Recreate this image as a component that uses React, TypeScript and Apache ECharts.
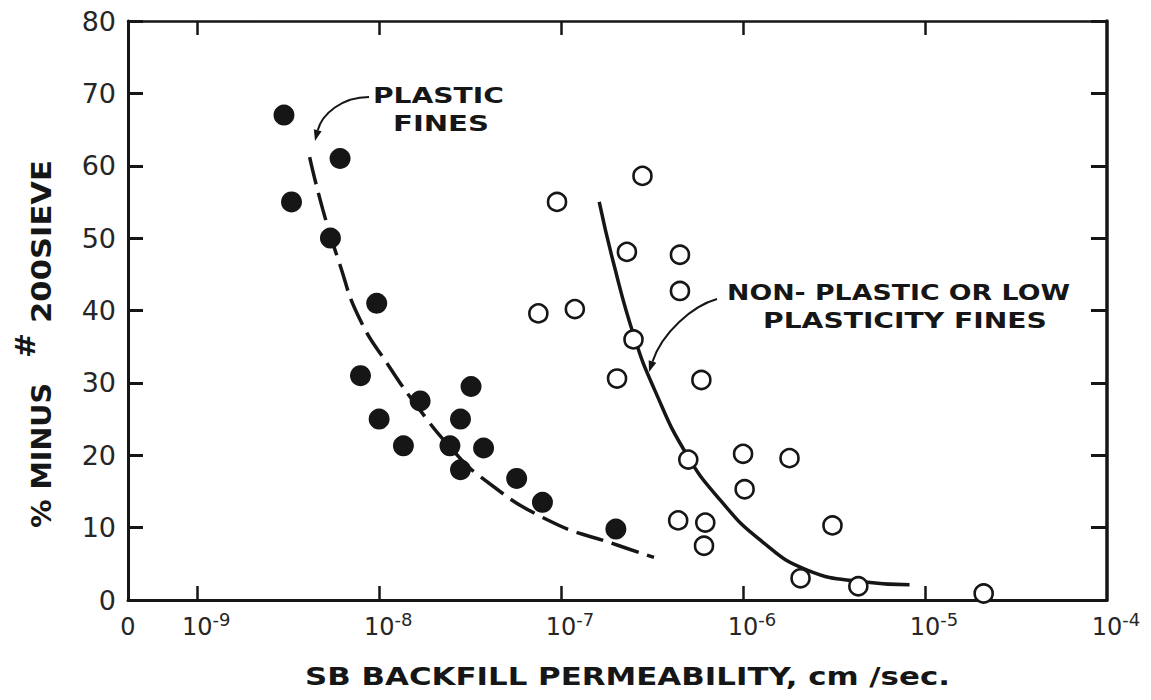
import React, { useEffect, useRef } from "react";
import * as echarts from "echarts";

// ---------- data (permeability in cm/sec, fines in %) ----------
const xTickExponents = [-9, -8, -7, -6, -5, -4];
const xMinExponent = -9.38; // broken-axis origin labelled "0"
const xMaxExponent = -4;
const yMin = 0;
const yMax = 80;
const yStep = 10;

const plasticK = [3.0e-9, 6.1e-9, 3.3e-9, 5.4e-9, 9.7e-9, 7.9e-9, 1.68e-8, 3.2e-8, 1.0e-8, 2.8e-8, 1.36e-8, 2.45e-8, 3.75e-8, 2.8e-8, 5.7e-8, 7.9e-8, 2.0e-7];
const plasticPct = [67, 61, 55, 50, 41, 31, 27.5, 29.5, 25, 25, 21.3, 21.3, 21, 18, 16.8, 13.5, 9.8];

const nonPlasticK = [2.8e-7, 9.5e-8, 2.3e-7, 4.5e-7, 4.5e-7, 7.5e-8, 1.19e-7, 2.5e-7, 2.03e-7, 5.9e-7, 5.0e-7, 1.0e-6, 1.8e-6, 1.02e-6, 4.4e-7, 6.2e-7, 6.1e-7, 3.1e-6, 2.07e-6, 4.3e-6, 2.1e-5];
const nonPlasticPct = [58.6, 55, 48.1, 47.7, 42.7, 39.6, 40.2, 36, 30.6, 30.4, 19.4, 20.2, 19.6, 15.3, 11, 10.7, 7.5, 10.3, 3, 1.9, 0.9];

const plasticCurveK = [4.15e-9, 4.91e-9, 6.04e-9, 7.73e-9, 1.14e-8, 1.67e-8, 2.46e-8, 3.62e-8, 8.45e-8, 2.03e-7, 3.24e-7];
const plasticCurvePct = [61.2, 53.9, 46.6, 39.1, 32.2, 26.3, 21.1, 17.0, 11.05, 7.6, 5.9];

const nonPlasticCurveK = [1.62e-7, 1.94e-7, 2.52e-7, 3.27e-7, 4.85e-7, 7.5e-7, 1.24e-6, 2.27e-6, 4.68e-6, 8.22e-6];
const nonPlasticCurvePct = [55.0, 46.6, 36.4, 29.0, 20.3, 13.8, 8.3, 4.1, 2.5, 2.1];

const xTitle = "SB BACKFILL PERMEABILITY, cm /sec.";
const yTitleParts = ["% MINUS", "#", "200SIEVE"];
const plasticNote = ["PLASTIC", "FINES"];
const nonPlasticNote = ["NON- PLASTIC OR LOW", "PLASTICITY FINES"];

// ---------- styling ----------
const INK = "#161616";
const LABEL = "#262626";
const FONT = "DejaVu Sans";

const toPairs = (ks: number[], ps: number[]) => ks.map((k, i) => [Math.log10(k), ps[i]]);

let measureCtx: CanvasRenderingContext2D | null = null;
function measure(text: string, font: string): number {
  if (!measureCtx) measureCtx = document.createElement("canvas").getContext("2d");
  if (!measureCtx) return text.length * 12;
  measureCtx.font = font;
  return measureCtx.measureText(text).width || text.length * 12;
}

function hText(text: string, size: number, weight: string, left: number, right: number, cy: number, fill = INK) {
  const font = `${weight} ${size}px "${FONT}"`;
  const w = measure(text, font);
  return {
    type: "text",
    silent: true,
    x: left,
    y: cy,
    scaleX: (right - left) / w,
    style: { text, font, fill, align: "left", verticalAlign: "middle", textAlign: "left", textVerticalAlign: "middle" },
  };
}

function vText(text: string, size: number, weight: string, bottom: number, top: number, cx: number) {
  const font = `${weight} ${size}px "${FONT}"`;
  const w = measure(text, font);
  return {
    type: "text",
    silent: true,
    x: cx,
    y: bottom,
    rotation: Math.PI / 2,
    scaleX: (bottom - top) / w,
    style: { text, font, fill: INK, align: "left", verticalAlign: "middle", textAlign: "left", textVerticalAlign: "middle" },
  };
}

function arrow(x1: number, y1: number, c1x: number, c1y: number, c2x: number, c2y: number, x2: number, y2: number) {
  const dx = x2 - c2x;
  const dy = y2 - c2y;
  const L = Math.hypot(dx, dy);
  const ux = dx / L;
  const uy = dy / L;
  const len = 11;
  const half = 4;
  const bx = x2 - ux * len;
  const by = y2 - uy * len;
  return [
    {
      type: "bezierCurve",
      silent: true,
      shape: { x1, y1, x2: bx, y2: by, cpx1: c1x, cpy1: c1y, cpx2: c2x, cpy2: c2y },
      style: { stroke: INK, lineWidth: 2, fill: null },
    },
    {
      type: "polygon",
      silent: true,
      shape: { points: [[x2, y2], [bx - uy * half, by + ux * half], [bx + uy * half, by - ux * half]] },
      style: { fill: INK },
    },
  ];
}

export default function App() {
  const ref = useRef<HTMLDivElement>(null);

  useEffect(() => {
    if (!ref.current) return;
    const chart = echarts.init(ref.current, null, { renderer: "svg" });

    const xLabelFormatter = (v: number) => {
      if (Math.abs(v - xMinExponent) < 1e-6) return "{z|0}";
      return `{b|10}{s|${Math.round(v)}}`;
    };

    const xTickValues = xTickExponents.slice(0, -1);

    const option: any = {
      animation: false,
      backgroundColor: "#ffffff",
      textStyle: { fontFamily: FONT },
      grid: { left: 128, top: 21, width: 979, height: 579, outerBoundsMode: "none", containLabel: false },
      xAxis: [
        {
          type: "value",
          position: "bottom",
          min: xMinExponent,
          max: xMaxExponent,
          splitLine: { show: false },
          axisLine: { show: true, onZero: false, lineStyle: { color: INK, width: 3 } },
          axisTick: { show: true, inside: true, length: 14, customValues: xTickValues, lineStyle: { color: INK, width: 2.5 } },
          axisLabel: {
            show: true,
            showMinLabel: true,
            showMaxLabel: true,
            customValues: [xMinExponent, ...xTickExponents],
            margin: 10,
            fontSize: 24,
            fontFamily: FONT,
            color: LABEL,
            formatter: xLabelFormatter,
            rich: {
              z: { fontSize: 24, fontFamily: FONT, color: LABEL, padding: [5, 0, 0, 0], verticalAlign: "bottom" },
              b: { fontSize: 24, fontFamily: FONT, color: LABEL, padding: [5, 0, 0, 18], verticalAlign: "bottom" },
              s: { fontSize: 18, fontFamily: FONT, color: LABEL, verticalAlign: "top" },
            },
          },
        },
        {
          type: "value",
          position: "top",
          min: xMinExponent,
          max: xMaxExponent,
          splitLine: { show: false },
          axisLine: { show: true, onZero: false, lineStyle: { color: INK, width: 2.5 } },
          axisTick: { show: true, inside: true, length: 14, customValues: xTickValues, lineStyle: { color: INK, width: 2.5 } },
          axisLabel: { show: false },
        },
      ],
      yAxis: [
        {
          type: "value",
          position: "left",
          min: yMin,
          max: yMax,
          interval: yStep,
          splitLine: { show: false },
          axisLine: { show: true, onZero: false, lineStyle: { color: INK, width: 3 } },
          axisTick: { show: true, inside: true, length: 15, lineStyle: { color: INK, width: 3 } },
          axisLabel: { show: true, margin: 12, fontSize: 27, fontFamily: FONT, color: LABEL },
        },
        {
          type: "value",
          position: "right",
          min: yMin,
          max: yMax,
          interval: yStep,
          splitLine: { show: false },
          axisLine: { show: true, onZero: false, lineStyle: { color: INK, width: 3.5 } },
          axisTick: { show: true, inside: true, length: 16, lineStyle: { color: INK, width: 3 } },
          axisLabel: { show: false },
        },
      ],
      series: [
        {
          name: "Plastic fines trend",
          type: "line",
          xAxisIndex: 0,
          yAxisIndex: 0,
          data: toPairs(plasticCurveK, plasticCurvePct),
          smooth: 0.5,
          showSymbol: false,
          silent: true,
          lineStyle: { color: INK, width: 3.5, type: [28, 9] },
          z: 2,
        },
        {
          name: "Non-plastic or low plasticity fines trend",
          type: "line",
          xAxisIndex: 0,
          yAxisIndex: 0,
          data: toPairs(nonPlasticCurveK, nonPlasticCurvePct),
          smooth: 0.5,
          showSymbol: false,
          silent: true,
          lineStyle: { color: INK, width: 3.5, type: "solid" },
          z: 2,
        },
        {
          name: "Plastic fines",
          type: "scatter",
          xAxisIndex: 0,
          yAxisIndex: 0,
          data: toPairs(plasticK, plasticPct),
          symbol: "circle",
          symbolSize: 21,
          itemStyle: { color: INK, opacity: 1 },
          z: 3,
        },
        {
          name: "Non-plastic or low plasticity fines",
          type: "scatter",
          xAxisIndex: 0,
          yAxisIndex: 0,
          data: toPairs(nonPlasticK, nonPlasticPct),
          symbol: "circle",
          symbolSize: 18,
          itemStyle: { color: "#ffffff", borderColor: INK, borderWidth: 2.6, opacity: 1 },
          z: 3,
        },
      ],
      graphic: [
        // axis titles
        hText(xTitle, 25, "bold", 305, 950, 677),
        vText(yTitleParts[0], 27, "bold", 528, 383, 42),
        vText(yTitleParts[1], 27, "bold", 358, 333, 26),
        vText(yTitleParts[2], 27, "bold", 323, 160, 42),
        // annotations
        hText(plasticNote[0], 22, "bold", 373, 504, 96),
        hText(plasticNote[1], 22, "bold", 393, 489, 123),
        hText(nonPlasticNote[0], 22, "bold", 727, 1070, 292),
        hText(nonPlasticNote[1], 22, "bold", 763, 1047, 321),
        ...arrow(369, 97, 342, 97, 322, 114, 315, 141),
        ...arrow(717, 299, 692, 306, 662, 333, 649, 372),
      ],
    };

    chart.setOption(option);
    return () => chart.dispose();
  }, []);

  return (
    <div
      ref={ref}
      style={{ position: "fixed", left: 0, top: 0, width: 1151, height: 700, background: "#ffffff" }}
    />
  );
}
